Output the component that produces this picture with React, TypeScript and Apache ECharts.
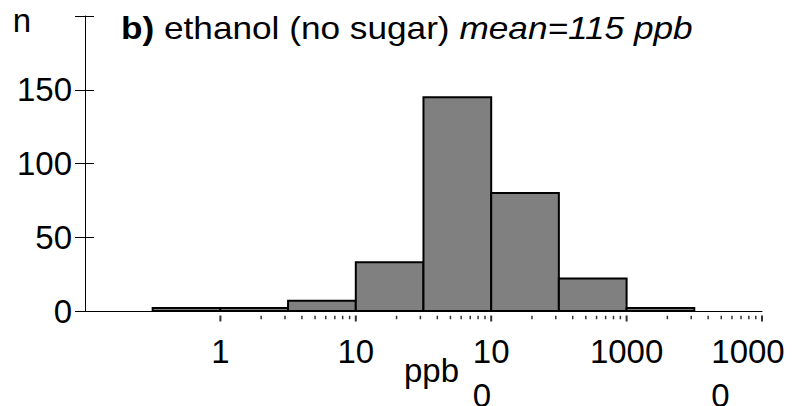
import React, { useEffect, useRef } from "react";
import * as echarts from "echarts";

// Histogram bins (ppb, half-decade wide) and the number of samples in each
const binLower = [0.316, 1, 3.16, 10, 31.6, 100, 316, 1000];
const binUpper = [1, 3.16, 10, 31.6, 100, 316, 1000, 3162];
const counts = [2, 2, 7, 33, 145, 80, 22, 2];

// Tick marks drawn under the log axis
const majorTickValues = [1, 10, 100, 1000, 10000];
const minorTickValues = [
  2, 3, 4, 5, 6, 7, 8, 9,
  20, 30, 40, 50, 60, 70, 80, 90,
  200, 300, 400, 500, 600, 700, 800, 900,
  2000, 3000, 4000, 5000, 6000, 7000, 8000, 9000,
];

// Tick label texts (x: by decade exponent, y: by value)
const xTickExponents = [0, 1, 2, 3, 4];
const xTickTexts = ["1", "10", "{a|10}\n{a|0}", "1000", "{z|1000}\n{z|0}"];
const yTickValues = [0, 50, 100, 150, 200];
const yTickTexts = ["0", "50", "100", "150", "{n|n}"];

const FONT = "'Liberation Sans', Arial, Helvetica, sans-serif";

export default function App() {
  const ref = useRef<HTMLDivElement>(null);

  useEffect(() => {
    if (!ref.current) return;
    const chart = echarts.init(ref.current, null, { renderer: "svg" });

    const bins = counts.map((n, i) => [binLower[i], binUpper[i], n]);

    const option = {
      animation: false,
      backgroundColor: "#ffffff",
      textStyle: { fontFamily: FONT },
      grid: {
        left: 85,
        right: 32,
        top: 16,
        bottom: 95,
        containLabel: false,
        outerBoundsMode: "none",
      },
      graphic: [
        {
          type: "text",
          x: 121,
          y: 28,
          scaleX: 1.1,
          style: {
            text: "{b|b)} ethanol (no sugar) {i|mean=115 ppb}",
            fontFamily: FONT,
            fontSize: 32,
            fill: "#000",
            verticalAlign: "middle",
            rich: {
              b: { fontFamily: FONT, fontSize: 32, fontWeight: "bold", fill: "#000" },
              i: { fontFamily: FONT, fontSize: 32, fontStyle: "italic", fill: "#000" },
            },
          },
        },
      ],
      xAxis: {
        type: "log",
        logBase: 10,
        min: 0.1,
        max: 10000,
        splitNumber: 5,
        name: "ppb",
        nameLocation: "middle",
        nameGap: 43,
        nameMoveOverlap: false,
        nameTextStyle: {
          fontFamily: FONT,
          fontSize: 33,
          color: "#000",
          padding: [0, 0, 0, 16],
        },
        axisLine: { show: true, lineStyle: { color: "#000", width: 1 } },
        axisTick: { show: false },
        splitLine: { show: false },
        axisLabel: {
          showMinLabel: false,
          margin: 18,
          fontFamily: FONT,
          fontSize: 33,
          lineHeight: 44,
          color: "#000",
          formatter: (v: number) => {
            const e = Math.round(Math.log10(v));
            const idx = xTickExponents.indexOf(e);
            return idx >= 0 ? xTickTexts[idx] : "";
          },
          rich: {
            a: {
              fontFamily: FONT,
              fontSize: 33,
              lineHeight: 44,
              color: "#000",
              align: "left",
            },
            z: {
              fontFamily: FONT,
              fontSize: 33,
              lineHeight: 44,
              color: "#000",
              align: "left",
              padding: [0, 28, 0, 0],
            },
          },
        },
      },
      yAxis: [
        {
          type: "value",
          min: 0,
          max: 200,
          interval: 50,
          axisLine: { show: true, lineStyle: { color: "#000", width: 1 } },
          axisTick: {
            show: true,
            inside: false,
            length: 10,
            lineStyle: { color: "#000", width: 1 },
          },
          splitLine: { show: false },
          axisLabel: {
            margin: 13,
            fontFamily: FONT,
            fontSize: 33,
            color: "#000",
            formatter: (v: number) => {
              const idx = yTickValues.indexOf(v);
              return idx >= 0 ? yTickTexts[idx] : "";
            },
            rich: {
              n: {
                fontFamily: FONT,
                fontSize: 33,
                color: "#000",
                padding: [8, 41, 0, 0],
              },
            },
          },
        },
        {
          type: "value",
          min: 0,
          max: 200,
          interval: 50,
          position: "left",
          axisLine: { show: false },
          axisTick: {
            show: true,
            inside: true,
            length: 9,
            lineStyle: { color: "#000", width: 1 },
          },
          splitLine: { show: false },
          axisLabel: { show: false },
        },
      ],
      series: [
        {
          type: "custom",
          xAxisIndex: 0,
          yAxisIndex: 0,
          data: bins,
          encode: { x: [0, 1], y: 2 },
          renderItem: (_params: any, api: any) => {
            const lo = api.value(0);
            const hi = api.value(1);
            const n = api.value(2);
            const p0 = api.coord([lo, 0]);
            const p1 = api.coord([hi, n]);
            return {
              type: "rect",
              shape: {
                x: p0[0],
                y: p1[1],
                width: p1[0] - p0[0],
                height: p0[1] - p1[1],
              },
              style: { fill: "#808080", stroke: "#000", lineWidth: 2 },
            };
          },
          z: 3,
        },
        {
          type: "scatter",
          xAxisIndex: 0,
          yAxisIndex: 0,
          clip: false,
          silent: true,
          symbol: "rect",
          symbolSize: [2, 6],
          symbolOffset: [0, 7.5],
          itemStyle: { color: "#000" },
          data: majorTickValues.map((v) => [v, 0]),
          z: 4,
        },
        {
          type: "scatter",
          xAxisIndex: 0,
          yAxisIndex: 0,
          clip: false,
          silent: true,
          symbol: "rect",
          symbolSize: [1.5, 3.5],
          symbolOffset: [0, 6.5],
          itemStyle: { color: "#000" },
          data: minorTickValues.map((v) => [v, 0]),
          z: 4,
        },
      ],
    };

    chart.setOption(option as any);
    return () => chart.dispose();
  }, []);

  return (
    <div
      ref={ref}
      style={{ position: "fixed", left: 0, top: 0, width: 794, height: 406 }}
    />
  );
}
